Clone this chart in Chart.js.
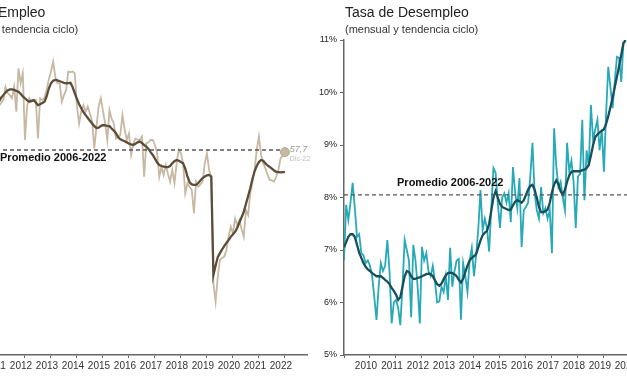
<!DOCTYPE html>
<html lang="es">
<head>
<meta charset="utf-8">
<title>Tasa de Empleo y Tasa de Desempleo</title>
<script src="https://cdn.jsdelivr.net/npm/chart.js@4.4.1/dist/chart.umd.min.js"></script>
<style>
    body { margin: 0; width: 627px; height: 376px; overflow: hidden; position: relative; background: #fff;
           font-family: "Liberation Sans", Arial, sans-serif; }
    .panel { position: absolute; top: 0; width: 400px; height: 376px; }
    .titulo { position: absolute; top: 4px; font-size: 14px; line-height: 16px; color: #222; white-space: nowrap; }
    .subtitulo { position: absolute; top: 23px; font-size: 11px; line-height: 13px; color: #333; white-space: nowrap; }
</style>
</head>
<body>

<div class="panel" style="left:-83px">
    <canvas id="empleoChart" width="400" height="376"></canvas>
    <div class="titulo" style="left:28px">Tasa de Empleo</div>
    <div class="subtitulo" style="left:28px">(mensual y tendencia ciclo)</div>
</div>

<div class="panel" style="left:314px">
    <canvas id="desempleoChart" width="400" height="376"></canvas>
    <div class="titulo" style="left:31px">Tasa de Desempleo</div>
    <div class="subtitulo" style="left:31px">(mensual y tendencia ciclo)</div>
</div>

<script>
// ===================================
// Datos
// ===================================

const inicioEje = 2009;
const finEje = 2022.85;
const etiquetasAnios = [2010, 2011, 2012, 2013, 2014, 2015, 2016, 2017, 2018, 2019, 2020, 2021, 2022];

// Empleo (%), mensual desde la posición 2011 del eje
const inicioEmpleo = 2011;
const empleoMensual = [
    59.5, 59.6, 59.71, 60.22, 59.97, 59.9, 59.78, 60.22, 59.27, 60.92,
    60.35, 60.73, 58.19, 59.5, 59.78, 59.65, 59.7, 59.71, 58.25, 59.78,
    59.71, 59.8, 60.1, 60.5, 60.8, 61.18, 60.6, 60.35, 60.35, 59.65,
    59.9, 60.1, 60.8, 60.78, 60.8, 60.73, 59.46, 58.82, 59.3, 59.52,
    59.27, 59.46, 59.2, 58.89, 57.87, 58.7, 59.46, 59.78, 59.3, 58.82,
    58.19, 59.33, 59.0, 58.82, 58.25, 58.3, 58.38, 59.14, 58.6, 58.19,
    58.44, 57.62, 58.06, 58.25, 58.2, 58.19, 58.32, 56.79, 58.06, 58.1,
    58.19, 58.19, 58.0, 57.7, 56.79, 57.17, 56.86, 57.24, 56.9, 56.6,
    57.05, 56.54, 57.3, 57.81, 57.68, 57.3, 56.15, 56.54, 56.4, 56.29,
    55.4, 56.6, 56.41, 56.5, 56.6, 57.3, 57.68, 57.05, 56.79, 52.73,
    52.03, 52.98, 53.62, 53.7, 53.75, 54.0, 54.5, 54.89, 54.64, 55.2,
    54.95, 55.14, 54.8, 54.51, 55.52, 55.33, 56.16, 56.6, 57.05, 57.81,
    58.32, 57.62, 57.3, 57.11, 56.86, 56.67, 56.65, 56.6, 56.8, 57.05,
    57.5, 57.6, 57.73
];
const empleoTendencia = [
    59.65, 59.8, 59.9, 60.0, 60.08, 60.12, 60.12, 60.1, 60.06, 60.03,
    59.95, 59.85, 59.78, 59.7, 59.65, 59.68, 59.71, 59.62, 59.52, 59.55,
    59.6, 59.65, 59.85, 60.15, 60.35, 60.45, 60.48, 60.46, 60.43, 60.4,
    60.37, 60.35, 60.36, 60.37, 60.2, 59.97, 59.75, 59.55, 59.4, 59.25,
    59.14, 59.03, 58.92, 58.82, 58.72, 58.65, 58.66, 58.72, 58.76, 58.75,
    58.73, 58.72, 58.63, 58.55, 58.45, 58.3, 58.22, 58.18, 58.14, 58.1,
    58.05, 58.02, 58.0, 58.05, 58.1, 58.13, 58.08, 58.0, 57.94, 57.85,
    57.73, 57.62, 57.48, 57.33, 57.24, 57.2, 57.18, 57.16, 57.16, 57.2,
    57.3, 57.38, 57.43, 57.4, 57.35, 57.3, 57.1, 56.8, 56.58, 56.5,
    56.48, 56.48, 56.55, 56.65, 56.74, 56.8, 56.84, 56.86, 56.8, 53.05,
    53.4, 53.73, 53.88, 54.02, 54.15, 54.27, 54.38, 54.5, 54.6, 54.69,
    54.85, 55.05, 55.25, 55.45, 55.75, 56.05, 56.35, 56.7, 57.0, 57.2,
    57.35, 57.43, 57.4, 57.3, 57.22, 57.16, 57.1, 57.03, 56.98, 56.97,
    56.96, 56.97, 56.97
];
const promedioEmpleo = 57.81;
const ultimoEmpleoTexto = '57,7';
const ultimoEmpleoFecha = 'Dic-22';

// Desempleo (%), mensual desde el inicio del eje
const inicioDesempleo = 2009;
const desempleoMensual = [
    6.8, 7.86, 7.57, 7.9, 8.28, 7.8, 7.25, 7.3, 6.94, 6.9,
    6.75, 6.8, 6.7, 6.5, 6.1, 5.67, 6.3, 6.75, 6.6, 6.7,
    7.19, 6.6, 5.6, 6.0, 6.05, 5.9, 5.57, 6.3, 7.19, 7.0,
    6.8, 5.72, 7.1, 6.8, 6.3, 5.6, 7.06, 6.8, 6.94, 6.6,
    6.5, 6.7, 6.4, 6.0, 6.02, 6.3, 6.2, 6.5, 6.05, 7.04,
    6.3, 6.6, 6.8, 6.83, 5.67, 6.75, 6.5, 6.2, 6.8, 7.04,
    6.5, 6.9, 7.4, 8.14, 7.38, 7.6, 7.42, 6.97, 7.8, 8.56,
    8.47, 7.9, 7.42, 8.0, 8.08, 7.9, 8.08, 7.53, 8.58, 8.1,
    7.8, 8.37, 7.06, 7.76, 7.82, 7.9, 8.4, 9.04, 8.09, 7.76,
    7.6, 8.2, 7.7, 7.8, 7.6, 7.76, 6.94, 9.32, 8.6, 8.2,
    8.3, 8.0, 7.76, 9.04, 8.5, 8.7, 8.3, 7.42, 8.4, 8.45,
    9.48, 7.95, 8.9, 8.6, 9.76, 9.1, 9.3, 9.48, 8.9, 9.3,
    8.49, 9.6, 10.49, 10.1, 9.7, 10.2, 10.68, 10.66, 10.2, 10.94,
    10.98
];
const desempleoTendencia = [
    7.05, 7.15, 7.25, 7.3, 7.3, 7.25, 7.1, 6.95, 6.85, 6.75,
    6.68, 6.63, 6.6, 6.56, 6.53, 6.5, 6.5, 6.5, 6.47, 6.43,
    6.4, 6.35, 6.28, 6.22, 6.15, 6.05, 6.1, 6.3, 6.5, 6.6,
    6.58, 6.5, 6.45, 6.45, 6.47, 6.48, 6.5, 6.52, 6.54, 6.55,
    6.54, 6.5, 6.42, 6.35, 6.32, 6.36, 6.44, 6.52, 6.56, 6.57,
    6.56, 6.54, 6.5, 6.43, 6.38, 6.45, 6.58, 6.7, 6.8, 6.85,
    6.88, 6.92, 7.05, 7.18, 7.28, 7.33, 7.36, 7.5, 7.75, 8.0,
    8.12, 8.0, 7.88, 7.82, 7.8, 7.78, 7.76, 7.77, 7.85, 7.92,
    7.95, 7.93, 7.9, 7.95, 8.05, 8.15, 8.22, 8.24, 8.15, 8.0,
    7.82, 7.72, 7.72, 7.74, 7.77, 7.9, 8.1, 8.25, 8.33, 8.25,
    8.12, 8.05, 8.15, 8.3, 8.42, 8.49, 8.5, 8.5, 8.5, 8.5,
    8.52, 8.53, 8.56, 8.62, 8.8, 9.0, 9.15, 9.2, 9.24, 9.27,
    9.3, 9.4, 9.55, 9.72, 9.9, 10.1, 10.3, 10.5, 10.72, 10.94,
    11.0
];
const promedioDesempleo = 8.05;

const FUENTE = '"Liberation Sans", Arial, sans-serif';

// Convertir serie mensual en puntos {x, y}
function aPuntos(inicio, valores) {
    return valores.map((v, i) => ({ x: inicio + i / 12, y: v }));
}

// Textos sobre el gráfico (promedio, último dato)
const notasPlugin = {
    id: 'notas',
    afterDatasetsDraw(chart, args, opts) {
        const { ctx, scales: { x, y } } = chart;
        ctx.save();
        (opts.textos || []).forEach(t => {
            ctx.font = t.font;
            ctx.fillStyle = t.color;
            ctx.textAlign = 'left';
            ctx.textBaseline = 'middle';
            ctx.fillText(t.texto, x.getPixelForValue(t.x), y.getPixelForValue(t.y));
        });
        ctx.restore();
    }
};

function crearGrafico(id, cfg) {
    return new Chart(document.getElementById(id), {
        type: 'line',
        data: {
            datasets: [
                {
                    data: aPuntos(cfg.inicio, cfg.mensual),
                    borderColor: cfg.colorMensual,
                    borderWidth: 1.8,
                    pointRadius: 0,
                    order: 3
                },
                {
                    data: aPuntos(cfg.inicio, cfg.tendencia),
                    borderColor: cfg.colorTendencia,
                    borderWidth: 2.3,
                    pointRadius: 0,
                    order: 2
                },
                {
                    data: [{ x: inicioEje, y: cfg.promedio }, { x: cfg.finPromedio, y: cfg.promedio }],
                    borderColor: '#555',
                    borderWidth: 1.4,
                    borderDash: [4, 3],
                    pointRadius: 0,
                    order: 1
                },
                ...(cfg.extra || [])
            ]
        },
        options: {
            responsive: false,
            animation: false,
            layout: { padding: { top: 40, right: 10, left: 0, bottom: 0 } },
            plugins: {
                legend: { display: false },
                tooltip: { enabled: false },
                notas: { textos: cfg.notas }
            },
            scales: {
                x: {
                    type: 'linear',
                    min: inicioEje,
                    max: finEje,
                    afterFit: s => { s.height = 21; },
                    // una marca por año, la primera en el origen sin etiqueta
                    afterBuildTicks: s => { s.ticks = [inicioEje, ...etiquetasAnios].map(v => ({ value: v })); },
                    grid: { drawOnChartArea: false, tickLength: 3, color: '#666' },
                    border: { color: '#666', width: 1.5 },
                    ticks: {
                        autoSkip: false,
                        maxRotation: 0,
                        padding: 2,
                        labelOffset: -4,
                        color: '#333',
                        font: { size: 10, family: FUENTE },
                        callback: v => etiquetasAnios.includes(v) ? String(v) : ''
                    }
                },
                y: {
                    min: cfg.yMin,
                    max: cfg.yMax,
                    afterFit: s => { s.width = 30; },
                    grid: { drawOnChartArea: false, tickLength: 4, color: '#666' },
                    border: { color: '#666', width: 1.5 },
                    ticks: {
                        stepSize: cfg.yPaso,
                        padding: 3,
                        color: '#222',
                        font: { size: 9, family: FUENTE },
                        callback: v => v + '%'
                    }
                }
            }
        },
        plugins: [notasPlugin]
    });
}

// Gráfico de empleo
const colorEmpleo = '#c6b8a3';
const ultimoX = inicioEmpleo + (empleoMensual.length - 1) / 12;
crearGrafico('empleoChart', {
    inicio: inicioEmpleo,
    mensual: empleoMensual,
    tendencia: empleoTendencia,
    colorMensual: colorEmpleo,
    colorTendencia: '#5c4c38',
    promedio: promedioEmpleo,
    finPromedio: ultimoX + 0.1,
    yMin: 50, yMax: 62, yPaso: 2,
    extra: [{
        data: [{ x: ultimoX, y: empleoMensual[empleoMensual.length - 1] }],
        showLine: false,
        pointRadius: 4.5,
        pointBackgroundColor: colorEmpleo,
        pointBorderColor: '#b9a98f',
        order: 0
    }],
    notas: [
        { texto: 'Promedio 2006-2022', x: 2011.04, y: 57.5, font: 'bold 11px ' + FUENTE, color: '#111' },
        { texto: ultimoEmpleoTexto, x: 2022.19, y: promedioEmpleo, font: 'italic 9px ' + FUENTE, color: '#9b9b9b' },
        { texto: ultimoEmpleoFecha, x: 2022.19, y: 57.47, font: '7px ' + FUENTE, color: '#bdbdbd' }
    ]
});

// Gráfico de desempleo
crearGrafico('desempleoChart', {
    inicio: inicioDesempleo,
    mensual: desempleoMensual,
    tendencia: desempleoTendencia,
    colorMensual: '#27a9b8',
    colorTendencia: '#17505a',
    promedio: promedioDesempleo,
    finPromedio: finEje,
    yMin: 5, yMax: 11, yPaso: 1,
    notas: [
        { texto: 'Promedio 2006-2022', x: 2011.04, y: 8.28, font: 'bold 11px ' + FUENTE, color: '#111' }
    ]
});
</script>
</body>
</html>
